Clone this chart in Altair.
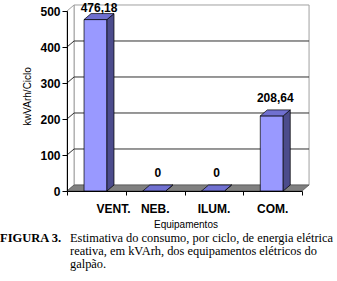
import json
import altair as alt
import pandas as pd

# ---- data ----
categories = ["VENT.", "NEB.", "ILUM.", "COM."]
values = [476.18, 0, 0, 208.64]
value_labels = ["476,18", "0", "0", "208,64"]
y_ticks = [0, 100, 200, 300, 400, 500]
grid_values = [100, 200, 300, 400]
y_title = "kwVArh/Ciclo"
x_title = "Equipamentos"
caption_bold = "FIGURA 3."
caption_lines = [
    "Estimativa do consumo, por ciclo, de energia elétrica",
    "reativa, em kVArh, dos equipamentos elétricos do",
    "galpão.",
]

# ---- 3D style geometry (in scale units) ----
DX = 0.12      # depth along x
DY = 16.7      # depth along y
BAR_L = 0.29   # front face left offset inside band
BAR_W = 0.39   # front face width
N = len(categories)
YMAX = 500

FONT = "Liberation Sans"

XS = alt.Scale(domain=[0, N], nice=False, zero=False)
YS = alt.Scale(domain=[0, YMAX], nice=False)

label_expr = json.dumps(categories) + "[datum.value] || ''"

XAX = alt.Axis(values=list(range(N + 1)), labelExpr=label_expr, labelOffset=29,
               tickSize=4, tickColor="black", domainColor="black", grid=False,
               title="", labelFont=FONT, labelFontWeight="bold", labelFontSize=12,
               labelColor="black", labelPadding=8, labelOverlap=False, zindex=1)
YAX = alt.Axis(values=y_ticks, tickSize=5, tickColor="black", domainColor="black",
               grid=False, title=y_title, labelFont=FONT, labelFontWeight="bold",
               labelFontSize=12, labelColor="black", titleFont=FONT, titleFontSize=10,
               titleFontWeight="normal", titleColor="black", labelPadding=2,
               titleX=-40, titleY=85, titleBaseline="middle", zindex=1)


def X(f="x"):
    return alt.X(f"{f}:Q", scale=XS, axis=XAX)


def Y(f="y"):
    return alt.Y(f"{f}:Q", scale=YS, axis=YAX)


# back wall
wall_df = pd.DataFrame([{"x": DX, "x2": N + DX, "y": DY, "y2": YMAX + DY}])
back_wall = alt.Chart(wall_df).mark_rect(fill="white", stroke="#a0a0a0", strokeWidth=1).encode(
    x=X(), x2="x2:Q", y=Y(), y2="y2:Q")

# left wall
lw_df = pd.DataFrame([{"x": 0, "y": 0, "y2": YMAX}, {"x": DX, "y": DY, "y2": YMAX + DY}])
left_wall = alt.Chart(lw_df).mark_area(orient="vertical", fill="white", stroke="#a0a0a0",
                                       strokeWidth=1).encode(x=X(), y=Y(), y2="y2:Q")

# gridlines
g_rows = []
for v in grid_values:
    g_rows += [{"g": v, "x": 0, "y": v}, {"g": v, "x": DX, "y": v + DY},
               {"g": v, "x": N + DX, "y": v + DY}]
grid = alt.Chart(pd.DataFrame(g_rows)).mark_line(color="#303030", strokeWidth=1).encode(
    x=X(), y=Y(), detail="g:N")

# floor
floor_df = pd.DataFrame([{"y": 0, "x": 0, "x2": N}, {"y": DY, "x": DX, "x2": N + DX}])
floor = alt.Chart(floor_df).mark_area(orient="horizontal", fill="#808080", stroke="#505050",
                                      strokeWidth=0.7).encode(y=Y(), x=X(), x2="x2:Q")

# bars
front_rows, side_rows, top_rows, lab_rows = [], [], [], []
for i, (c, v, lab) in enumerate(zip(categories, values, value_labels)):
    xl = i + BAR_L
    xr = xl + BAR_W
    front_rows.append({"cat": c, "x": xl, "x2": xr, "y": 0, "y2": v})
    side_rows += [{"cat": c, "x": xr, "y": 0, "y2": v},
                  {"cat": c, "x": xr + DX, "y": DY, "y2": v + DY}]
    top_rows += [{"cat": c, "y": v, "x": xl, "x2": xr},
                 {"cat": c, "y": v + DY, "x": xl + DX, "x2": xr + DX}]
    lab_rows.append({"cat": c, "x": (xl + xr) / 2 + DX / 2, "v": v, "lab": lab})

front = alt.Chart(pd.DataFrame(front_rows)).mark_rect(fill="#9999ff", stroke="black",
                                                      strokeWidth=0.7).encode(
    x=X(), x2="x2:Q", y=Y(), y2="y2:Q")
side = alt.Chart(pd.DataFrame(side_rows)).mark_area(orient="vertical", fill="#4c4c8c",
                                                    stroke="black", strokeWidth=0.7).encode(
    x=X(), y=Y(), y2="y2:Q", detail="cat:N")
top = alt.Chart(pd.DataFrame(top_rows)).mark_area(orient="horizontal", fill="#7070d0",
                                                  stroke="black", strokeWidth=0.7).encode(
    y=Y(), x=X(), x2="x2:Q", detail="cat:N")

labels = alt.Chart(pd.DataFrame(lab_rows)).transform_calculate(
    ly=f"min(datum.v + {DY}, 475)"
).mark_text(font=FONT, fontWeight="bold", fontSize=12, color="black", dy=-8,
            baseline="alphabetic", align="center").encode(
    x=X(), y=Y("ly"), text="lab:N")

# x axis title as text
xtitle = alt.Chart(pd.DataFrame({"t": [x_title]})).mark_text(
    font=FONT, fontSize=10, color="black", align="center", baseline="alphabetic").encode(
    x=alt.value(119), y=alt.value(217), text="t:N")

# caption
cap1 = alt.Chart(pd.DataFrame({"t": [caption_bold]})).mark_text(
    font="Liberation Serif", fontWeight="bold", fontSize=12.5, color="black",
    align="left", baseline="alphabetic").encode(
    x=alt.value(-67), y=alt.value(231), text="t:N")
cap2 = alt.Chart(pd.DataFrame({"t": ["\n".join(caption_lines)]})).mark_text(
    font="Liberation Serif", fontSize=12.4, color="black", align="left",
    baseline="alphabetic", lineBreak="\n", lineHeight=13).encode(
    x=alt.value(3), y=alt.value(231), text="t:N")

chart = alt.layer(back_wall, left_wall, grid, floor, front, side, top, labels,
                  xtitle, cap1, cap2).properties(
    width=235, height=180,
    autosize=alt.AutoSizeParams(type="none"),
    padding={"left": 67, "top": 11, "right": 35, "bottom": 90},
    background="white",
).configure_view(stroke=None)

chart.save("out.html", embed_options={"renderer": "svg", "actions": False})
